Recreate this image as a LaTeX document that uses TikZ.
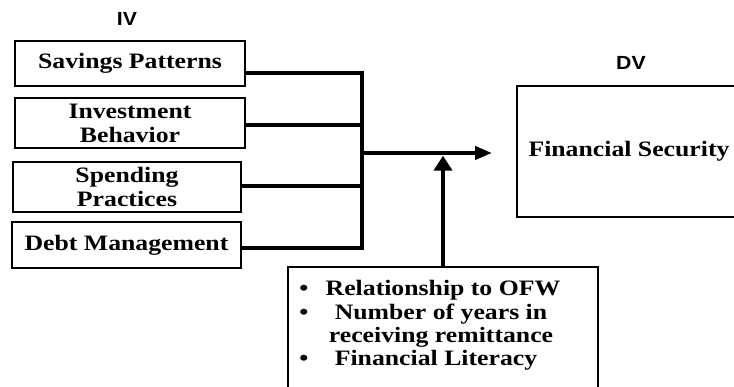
\documentclass[tikz,border=0pt]{standalone}
\usepackage{fontspec}
\setmainfont{Liberation Serif}
\newfontfamily\tnr{Liberation Serif}[FakeStretch=1.17]
\newfontfamily\arl{Liberation Sans}[FakeStretch=1.12]
\usetikzlibrary{arrows.meta}
\begin{document}
\begin{tikzpicture}[x=1pt,y=-1pt,
  ivbox/.style={draw, line width=2.7pt, inner sep=0pt, align=center,
    font=\tnr\bfseries\fontsize{22}{24}\selectfont},
  link/.style={line width=4pt, line join=miter},
  lbl/.style={font=\arl\bfseries\fontsize{19}{21}\selectfont, inner sep=0pt},
  txt/.style={font=\tnr\bfseries\fontsize{22}{24}\selectfont, inner sep=0pt, anchor=base}]
\clip (0,0) rectangle (734,387);
\fill[white] (0,0) rectangle (734,387);
\node[lbl] (iv) at (127,19) {IV};
\node[lbl] (dvl) at (631,63) {DV};
\node[ivbox, minimum width=230pt, minimum height=45pt] (b1) at (130,63.5) {Savings Patterns};
\node[ivbox, minimum width=230pt, minimum height=50pt] (b2) at (130,123) {Investment\\Behavior};
\node[ivbox, minimum width=228pt, minimum height=50pt] (b3) at (127,187) {Spending\\Practices};
\node[ivbox, minimum width=229pt, minimum height=46pt] (b4) at (126.5,245) {Debt Management};
\node[ivbox, minimum width=224pt, minimum height=131pt] (dv) at (629,151.5) {Financial Security};
\node[draw, line width=2.7pt, minimum width=310pt, minimum height=130pt] (mod) at (443,332) {};
\coordinate (j1) at (362,73);
\coordinate (j2) at (362,125);
\coordinate (j3) at (362,186);
\coordinate (j4) at (362,248);
\coordinate (jm) at (362,153);
\coordinate (tip) at (492,153);
\draw[link] (b1.east |- j1) -- (j1) -- (j4) -- (b4.east |- j4);
\draw[link] (b2.east |- j2) -- (j2);
\draw[link] (b3.east |- j3) -- (j3);
\draw[link, -{Triangle[length=17pt,width=13pt]}] (jm) -- (tip);
\draw[link, -{Triangle[length=15pt,width=18pt]}] (mod.north) -- ++(0,-110);
\node[txt] (u1) at (304,296) {\textbullet};
\node[txt] (u2) at (304,319.5) {\textbullet};
\node[txt] (u4) at (304,365.5) {\textbullet};
\node[txt] (t1) at (443,296) {Relationship to OFW};
\node[txt] (t2) at (441,319.5) {Number of years in};
\node[txt] (t3) at (441,342.5) {receiving remittance};
\node[txt] (t4) at (436,365.5) {Financial Literacy};
\end{tikzpicture}
\end{document}
